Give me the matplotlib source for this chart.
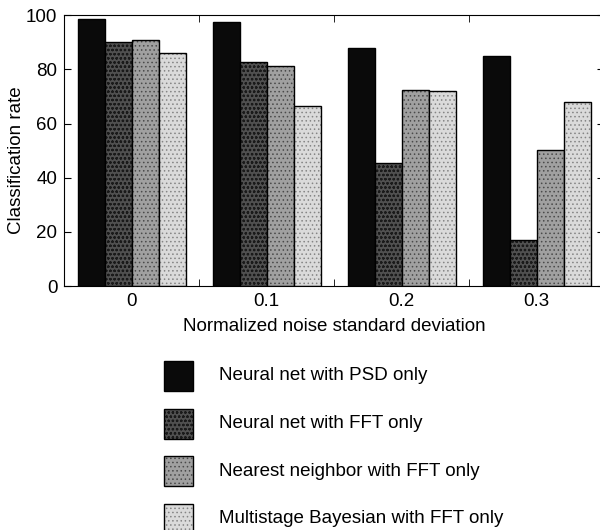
import numpy as np
import matplotlib
matplotlib.use("Agg")
import matplotlib.pyplot as plt
from matplotlib.patches import Rectangle

plt.rcParams["font.family"] = ["Liberation Sans", "DejaVu Sans"]
plt.rcParams["hatch.linewidth"] = 0.6

noise_levels = ["0", "0.1", "0.2", "0.3"]
series_names = [
    "Neural net with PSD only",
    "Neural net with FFT only",
    "Nearest neighbor with FFT only",
    "Multistage Bayesian with FFT only",
]
psd_net = [98.5, 97.5, 88, 85]
fft_net = [90, 82.8, 45.6, 17.2]
nearest = [91, 81.3, 72.3, 50.4]
bayes = [86, 66.3, 72, 68]

faces = ["#0a0a0a", "#505050", "#a0a0a0", "#dadada"]
hatches = [None, "oooo", "....", "...."]
hatch_cols = ["#0a0a0a", "#1a1a1a", "#4a4a4a", "#858585"]
fs = 13.5

fig = plt.figure(figsize=(6, 5.3), dpi=100)
ax = fig.add_axes([0.107, 0.46, 0.9, 0.5115])

x = np.arange(len(noise_levels))
w = 0.2
for i, vals in enumerate([psd_net, fft_net, nearest, bayes]):
    bars = ax.bar(x - 0.3 + i * w, vals, w, color=faces[i], edgecolor="black",
                  linewidth=1.0, hatch=hatches[i])
    for b in bars:
        b._hatch_color = matplotlib.colors.to_rgba(hatch_cols[i])

ax.set_xlim(-0.5, 3.5)
ax.set_ylim(0, 100)
ax.set_yticks([0, 20, 40, 60, 80, 100])
ax.set_xticks(x)
ax.set_xticklabels(noise_levels)
ax.set_xticks([0.5, 1.5, 2.5], minor=True)
ax.tick_params(axis="x", which="major", length=0, labelsize=fs, pad=5)
ax.tick_params(axis="x", which="minor", direction="in", length=5, top=True)
ax.tick_params(axis="y", direction="in", length=5, right=True, labelsize=fs, pad=5)
ax.set_ylabel("Classification rate", fontsize=fs)
ax.yaxis.set_label_coords(-0.072, 0.465)
ax.set_xlabel("Normalized noise standard deviation", fontsize=fs, labelpad=6)

# legend drawn as stacked swatches below the plot
for i, name in enumerate(series_names):
    y0 = 1 - (361 + i * 47.5 + 30) / 530
    sw = Rectangle((164 / 600, y0), 29 / 600, 30 / 530, transform=fig.transFigure,
                   facecolor=faces[i], edgecolor="black", linewidth=1.0,
                   hatch=hatches[i], figure=fig)
    sw._hatch_color = matplotlib.colors.to_rgba(hatch_cols[i])
    fig.patches.append(sw)
    fig.text(219 / 600, y0 + 15 / 530, name, fontsize=fs, va="center", ha="left")

fig.savefig("out.png", dpi=100)
